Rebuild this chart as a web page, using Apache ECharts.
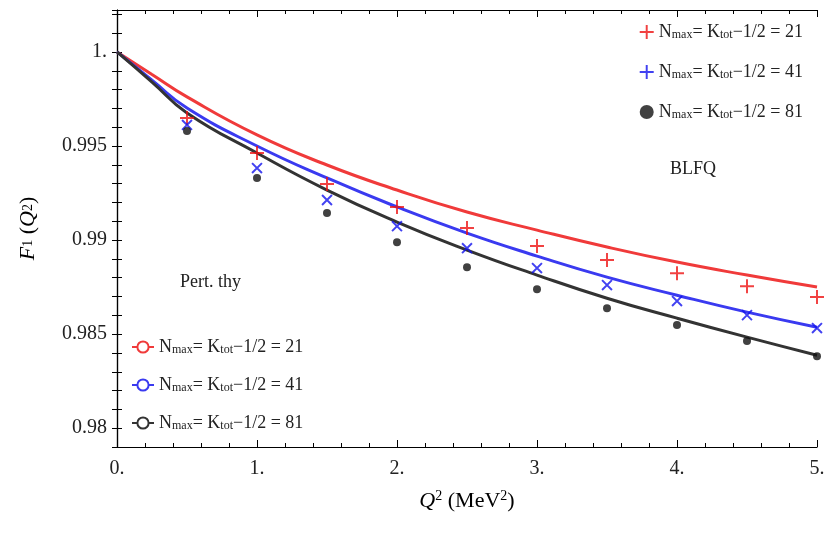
<!DOCTYPE html>
<html><head><meta charset="utf-8">
<script src="https://cdn.jsdelivr.net/npm/echarts@6/dist/echarts.min.js"></script>
<style>html,body{margin:0;background:#fff}#c{width:830px;height:539px}</style>
</head><body><div id="c"></div>
<script>
// points
var xPts = [0.5, 1, 1.5, 2, 2.5, 3, 3.5, 4, 4.5, 5];
var red21 = [0.99649, 0.99463, 0.99298, 0.99176, 0.99064, 0.98968, 0.98894, 0.98824, 0.98755, 0.98697];
var blue41 = [0.99612, 0.99383, 0.99213, 0.99074, 0.98957, 0.98851, 0.98761, 0.98676, 0.98601, 0.98532];
var black81 = [0.9958, 0.9933, 0.99144, 0.98989, 0.98856, 0.98739, 0.98638, 0.98548, 0.98463, 0.98383];
// curves (pert. thy)
var xLine = [0, 0.25, 0.5, 1, 1.5, 2, 2.5, 3, 3.5, 4, 4.5, 5];
var line21 = [1, 0.9988, 0.99761, 0.99559, 0.99399, 0.99266, 0.99149, 0.99053, 0.98963, 0.98883, 0.98814, 0.9875];
var line41 = [1, 0.9985, 0.99702, 0.995, 0.9933, 0.99176, 0.99037, 0.98915, 0.98803, 0.98707, 0.98617, 0.98537];
var line81 = [1, 0.9984, 0.99676, 0.99463, 0.99266, 0.99096, 0.98947, 0.98814, 0.98691, 0.98585, 0.98484, 0.98388];
var names = ['21', '41', '81'];

var serif = 'Liberation Serif';
var rich = {
	b: {fontFamily: serif, fontSize: 18, color: '#222'},
	s: {fontFamily: serif, fontSize: 12, color: '#222', verticalAlign: 'bottom', padding: [6, 0, 0, 0]}
};
function zip(xs, ys) { return xs.map(function (x, i) { return [x, ys[i]]; }); }
function legName(n) { return '{b|N}{s|max}{b|= K}{s|tot}{b|\u22121/2 = ' + n + '}'; }

var plus = 'path://M4.3,0h1.4v10h-1.4zM0,4.3h10v1.4h-10z';
var series = [
	{name: 'p' + names[0], type: 'scatter', data: zip(xPts, red21), symbol: plus, symbolSize: 14, itemStyle: {color: '#ee1111'}, z: 5},
	{name: 'p' + names[1], type: 'scatter', data: zip(xPts, blue41), symbol: plus, symbolRotate: 45, symbolSize: 14, itemStyle: {color: '#1111ee'}, z: 5},
	{name: 'p' + names[2], type: 'scatter', data: zip(xPts, black81), symbol: 'circle', symbolSize: 8, itemStyle: {color: '#111'}, z: 5},
	{name: 'l' + names[0], type: 'line', data: zip(xLine, line21), smooth: true, showSymbol: false, lineStyle: {color: '#f03a3a', width: 3}, itemStyle: {color: '#f03a3a'}},
	{name: 'l' + names[1], type: 'line', data: zip(xLine, line41), smooth: true, showSymbol: false, lineStyle: {color: '#3a3af0', width: 3}, itemStyle: {color: '#3a3af0'}},
	{name: 'l' + names[2], type: 'line', data: zip(xLine, line81), smooth: true, showSymbol: false, lineStyle: {color: '#333', width: 3}, itemStyle: {color: '#333'}}
];

var axisCommon = {
	axisLine: {lineStyle: {color: '#000', width: 1.2}},
	axisTick: {inside: true, length: 7, lineStyle: {color: '#000'}},
	minorTick: {show: true, splitNumber: 5, length: 4, lineStyle: {color: '#000'}},
	splitLine: {show: false}
};

var option = {
	animation: false,
	grid: {left: 117, right: 13, top: 10, bottom: 92},
	legend: [
		{data: ['p21', 'p41', 'p81'], orient: 'vertical', right: 22, top: 18, itemGap: 22, itemWidth: 14, itemHeight: 14,
			formatter: function (n) { return legName(n.slice(1)); }, textStyle: {rich: rich}},
		{data: ['l21', 'l41', 'l81'], orient: 'vertical', left: 126, top: 333, itemGap: 20, itemWidth: 22, itemHeight: 14,
			formatter: function (n) { return legName(n.slice(1)); }, textStyle: {rich: rich}}
	],
	xAxis: [
		Object.assign({type: 'value', min: 0, max: 5, interval: 1,
			name: '{i|Q}{sup|2}{b| (MeV}{sup|2}{b|)}', nameLocation: 'middle', nameGap: 42,
			nameTextStyle: {rich: {i: {fontFamily: serif, fontStyle: 'italic', fontSize: 22}, b: {fontFamily: serif, fontSize: 22}, sup: {fontFamily: serif, fontSize: 14, verticalAlign: 'top', padding: [0, 0, 10, 0]}}},
			axisLabel: {fontFamily: serif, fontSize: 20, color: '#222', margin: 12, formatter: function (v) { return v.toFixed(0) + '.'; }}}, axisCommon),
		Object.assign({type: 'value', min: 0, max: 5, interval: 1, position: 'top', axisLabel: {show: false}}, axisCommon)
	],
	yAxis: [
		Object.assign({}, axisCommon, {type: 'value', min: 0.979, max: 1.00223, interval: 0.001,
			minorTick: {show: false},
			axisTick: {inside: true, length: 5, lineStyle: {color: '#000'}},
			name: '{i|F}{sub|1}{b| (}{i|Q}{sup|2}{b|)}', nameLocation: 'middle', nameGap: 78, nameRotate: 90,
			nameTextStyle: {rich: {i: {fontFamily: serif, fontStyle: 'italic', fontSize: 22}, b: {fontFamily: serif, fontSize: 22}, sub: {fontFamily: serif, fontSize: 14}, sup: {fontFamily: serif, fontSize: 14}}},
			axisLabel: {fontFamily: serif, fontSize: 20, color: '#222', margin: 10, formatter: function (v) {
				var k = Math.round(v * 1000);
				if (k % 5 !== 0) return '';
				return k === 1000 ? '1.' : (k / 1000).toString();
			}}}),
		Object.assign({}, axisCommon, {type: 'value', min: 0.979, max: 1.00223, interval: 0.001, position: 'right',
			minorTick: {show: false}, axisTick: {inside: true, length: 5, lineStyle: {color: '#000'}}, axisLabel: {show: false}})
	],
	graphic: [
		{type: 'text', left: 670, top: 160, style: {text: 'BLFQ', fontFamily: serif, fontSize: 18, fill: '#222'}},
		{type: 'text', left: 180, top: 273, style: {text: 'Pert. thy', fontFamily: serif, fontSize: 18, fill: '#222'}}
	],
	series: series
};
var myChart = echarts.init(document.getElementById('c'));
myChart.setOption(option);
</script></body></html>
